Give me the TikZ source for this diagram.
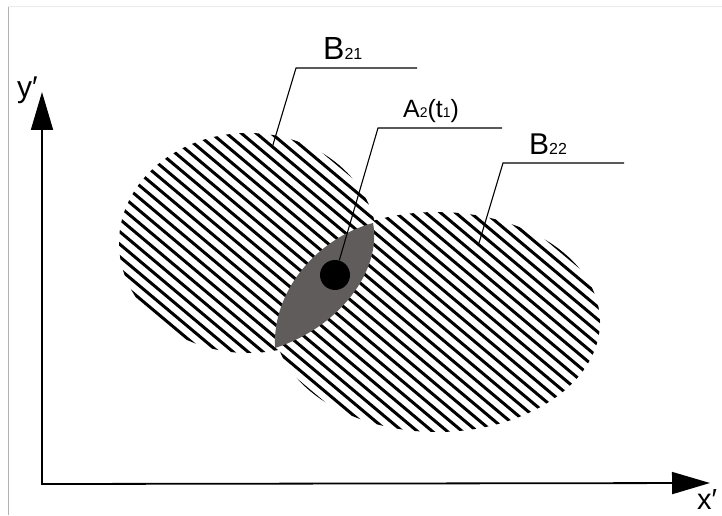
\documentclass[tikz,border=0pt]{standalone}
\usepackage{fontspec}
\setmainfont{Liberation Sans}
\usetikzlibrary{positioning,arrows.meta}
\definecolor{lensgray}{RGB}{96,92,92}
\newcommand{\idx}[2]{{\fontsize{#1}{#1}\selectfont #2}}

\begin{document}
\begin{tikzpicture}[x=1pt, y=1pt,
    axis/.style={line width=1.8pt, {Triangle[length=38pt,width=22pt]}-{Triangle[length=38pt,width=22pt]}},
    hatch/.style={line width=3pt},
    leader/.style={line width=1.1pt},
    lbl/.style={inner sep=0pt, anchor=base west}]
    \useasboundingbox (0,0) rectangle (722,515);
    % --- Frame edges ---
    \draw[gray!60, line width=0.8pt] (8,0) -- (8,509);
    \draw[gray!15, line width=0.6pt] (8,509) -- (722,509);

    % --- Hatched regions B21 and B22 ---
    \begin{scope}
        \clip (248,272) ellipse [x radius=129, y radius=110]
              (437,193) ellipse [x radius=163, y radius=110];
        \begin{scope}[rotate=-40]
            \foreach \k in {0,...,42}
                \draw[hatch] (-200, 198+9.6*\k) -- (420, 198+9.6*\k);
        \end{scope}
    \end{scope}

    % --- Overlap A2(t1) with its point ---
    \fill[lensgray] (275,167) .. controls (272,225) and (318,277) .. (373,292)
        .. controls (382,245) and (340,188) .. cycle;
    \node[circle, fill=black, minimum size=30pt, inner sep=0pt] (dot) at (335,240) {};

    % --- Axes ---
    \coordinate (origin) at (42,31);
    \coordinate (ytip) at (42,423);
    \coordinate (xtip) at (710,32);
    \draw[axis] (ytip) -- (origin) -- (xtip);
    \node[lbl, font=\fontsize{30}{30}\selectfont] (ylabel) at (17,417) {y′};
    \node[lbl, font=\fontsize{29}{29}\selectfont] (xlabel) at (697,6) {x′};

    % --- Labels with leaders ---
    \node[lbl, font=\fontsize{32}{32}\selectfont] (b21) at (323,455) {B\idx{16}{21}};
    \coordinate (b21knee) at (296,447);
    \coordinate (b21end) at (417,447);
    \coordinate (b21tip) at (272,367);
    \draw[leader] (b21tip) -- (b21knee) -- (b21end);

    \node[lbl, font=\fontsize{25}{25}\selectfont] (a2) at (403,397) {A\idx{14}{2}(t\idx{14}{1})};
    \coordinate (a2knee) at (378,387);
    \coordinate (a2end) at (502,387);
    \draw[leader] (dot) -- (a2knee) -- (a2end);

    \node[lbl, font=\fontsize{30}{30}\selectfont] (b22) at (529,360) {B\idx{16}{22}};
    \coordinate (b22knee) at (503,352);
    \coordinate (b22end) at (624,352);
    \coordinate (b22tip) at (479,272);
    \draw[leader] (b22tip) -- (b22knee) -- (b22end);
\end{tikzpicture}
\end{document}
